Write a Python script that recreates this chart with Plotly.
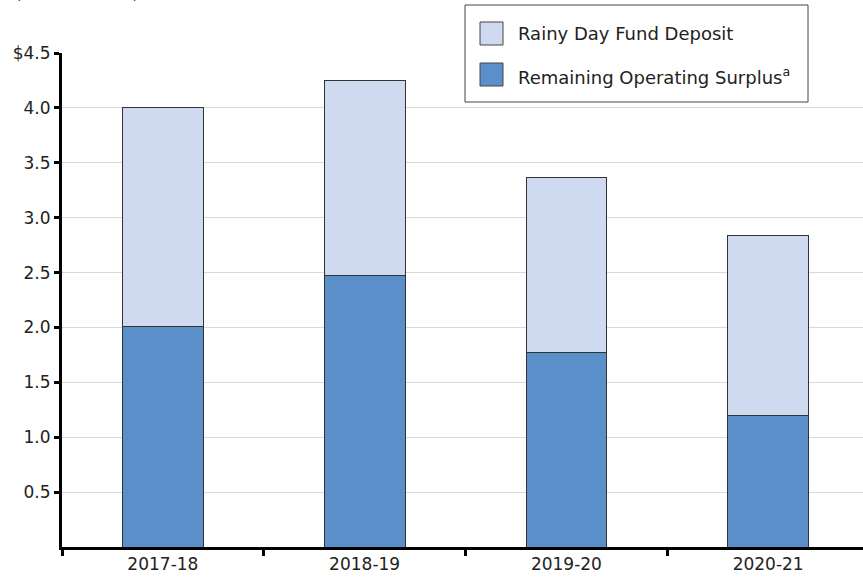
import plotly.graph_objects as go

# ---- data ----
categories = ["2017-18", "2018-19", "2019-20", "2020-21"]
operating_surplus = [2.01, 2.47, 1.77, 1.20]
rainy_day_deposit = [1.99, 1.78, 1.60, 1.64]
y_tick_vals = [0.5, 1.0, 1.5, 2.0, 2.5, 3.0, 3.5, 4.0, 4.5]
y_tick_text = ["0.5", "1.0", "1.5", "2.0", "2.5", "3.0", "3.5", "4.0", "$4.5"]
series_names = ["Rainy Day Fund Deposit", "Remaining Operating Surplus<sup>a</sup>"]

# ---- style ----
W, H = 863, 577
L, R, T, B = 62, 0, 53, 30
FONT = "DejaVu Sans"
LIGHT = "#cfdaf0"
DARK = "#5b8fca"
EDGE = "#333333"

pw, ph = W - L - R, H - T - B


def px(x):
    return (x - L) / pw


def py(y):
    return (H - B - y) / ph


fig = go.Figure()
fig.add_trace(go.Bar(x=categories, y=operating_surplus, name=series_names[1],
                     marker=dict(color=DARK, line=dict(color=EDGE, width=1)),
                     width=0.4, showlegend=False))
fig.add_trace(go.Bar(x=categories, y=rainy_day_deposit, name=series_names[0],
                     marker=dict(color=LIGHT, line=dict(color=EDGE, width=1)),
                     width=0.4, showlegend=False))

shapes = [
    dict(type="rect", xref="paper", yref="paper", x0=px(465), x1=px(808), y0=py(102), y1=py(5),
         line=dict(color="#444444", width=1), fillcolor="white", layer="above"),
    dict(type="rect", xref="paper", yref="paper", x0=px(480), x1=px(503), y0=py(45), y1=py(22),
         line=dict(color="#444444", width=1), fillcolor=LIGHT, layer="above"),
    dict(type="rect", xref="paper", yref="paper", x0=px(480), x1=px(503), y0=py(86), y1=py(63),
         line=dict(color="#444444", width=1), fillcolor=DARK, layer="above"),
]

annotations = [
    dict(text=series_names[0], xref="paper", yref="paper", x=px(516), y=py(34),
         xanchor="left", yanchor="middle", showarrow=False,
         font=dict(family=FONT, size=18, color="#222222")),
    dict(text=series_names[1], xref="paper", yref="paper", x=px(516), y=py(76),
         xanchor="left", yanchor="middle", showarrow=False,
         font=dict(family=FONT, size=18, color="#222222")),
    dict(text="(Dollars in Billions)", xref="paper", yref="paper", x=px(14), y=py(5),
         xanchor="left", yanchor="bottom", showarrow=False,
         font=dict(family=FONT, size=13, color="#222222")),
]

fig.update_layout(
    width=W, height=H,
    margin=dict(l=L, r=R, t=T, b=B, pad=0),
    barmode="stack",
    plot_bgcolor="white", paper_bgcolor="white",
    font=dict(family=FONT, size=17, color="#222222"),
    shapes=shapes, annotations=annotations,
    showlegend=False,
)
fig.update_xaxes(
    type="category", range=[-0.5, 3.47],
    showline=True, linecolor="black", linewidth=3,
    ticks="outside", tickson="boundaries", ticklen=6, tickwidth=3, tickcolor="black",
    showgrid=False, tickfont=dict(family=FONT, size=17, color="#222222"),
)
fig.update_yaxes(
    range=[0, 4.5], tickvals=y_tick_vals, ticktext=y_tick_text,
    showline=True, linecolor="black", linewidth=3,
    ticks="outside", ticklen=5, tickwidth=3, tickcolor="black",
    showgrid=True, gridcolor="#d9d9d9", gridwidth=1, zeroline=False,
    tickfont=dict(family=FONT, size=17, color="#222222"),
)

fig.write_html("out.html", config={"displayModeBar": False},
               post_script="document.body.style.margin='0';document.body.style.overflow='hidden';")
